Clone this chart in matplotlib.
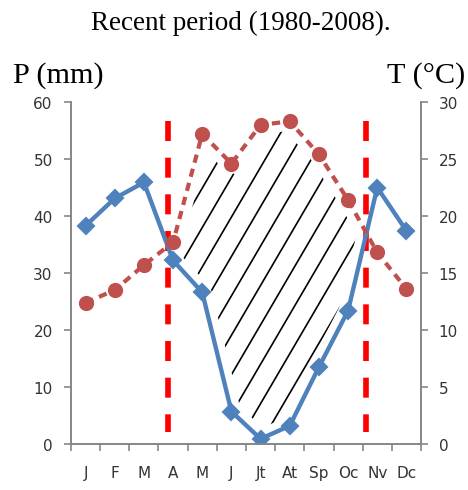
import numpy as np
import matplotlib
matplotlib.use('Agg')
import matplotlib.pyplot as plt
from matplotlib.collections import LineCollection
from matplotlib.patches import Polygon

months = ['J', 'F', 'M', 'A', 'M', 'J', 'Jt', 'At', 'Sp', 'Oc', 'Nv', 'Dc']
precip = [38.3, 43.1, 45.9, 32.2, 26.6, 5.7, 0.9, 3.2, 13.5, 23.4, 45.0, 37.4]
temp = [12.4, 13.5, 15.7, 17.7, 27.2, 24.6, 28.0, 28.3, 25.4, 21.4, 16.8, 13.6]
dry_bounds = [2.82, 9.63]   # where P = 2T
dry_line_span = [56.7, 2.1]

plt.rcParams['lines.scale_dashes'] = False

x = np.arange(len(months))
fig = plt.figure(figsize=(3.12, 3.2733), dpi=150)
ax = fig.add_axes([0.1517, 0.0937, 0.7479, 0.6965])
ax2 = ax.twinx()
ax2.set_zorder(ax.get_zorder() + 1)

# dry season area (P < 2T), hatched with thin slanted lines kept off the edges
t2 = 2 * np.array(temp)
xd = np.linspace(dry_bounds[0], dry_bounds[1], 200)
lo = np.interp(xd, x, precip)
hi = np.interp(xd, x, t2)
area = Polygon(np.column_stack([np.r_[xd, xd[::-1]], np.r_[lo, hi[::-1]]]),
               closed=True, facecolor='none', edgecolor='white', lw=9, zorder=2)
ax.add_patch(area)
x0 = np.arange(-1.13, 12, 0.79)
segs = [[(a, 0), (a + 60 / 8.75, 60)] for a in x0]
hatch = LineCollection(segs, colors='black', linewidths=0.8, zorder=1)
ax.add_collection(hatch)
hatch.set_clip_path(area)

for xb in dry_bounds:
    ax.plot([xb, xb], dry_line_span, color='#ff0000', lw=2.7, dashes=(9.6, 8), zorder=3)
ax.plot(x, precip, color='#4f81bd', lw=2.1, marker='D', ms=5.2, zorder=4)
ax2.plot(x, temp, color='#c0504d', lw=2.0, dashes=(4, 3), marker='o', ms=6.3, zorder=3)

ax.set_xlim(-0.5, 11.5)
ax.set_ylim(0, 60)
ax2.set_ylim(0, 30)
ax.set_yticks(np.arange(0, 61, 10))
ax2.set_yticks(np.arange(0, 31, 5))
ax.set_xticks(np.arange(-0.5, 12, 1))
ax.set_xticklabels([])
ax.set_xticks(x, minor=True)
ax.set_xticklabels(months, minor=True)

grey = '#868686'
for a in (ax, ax2):
    for s in a.spines.values():
        s.set_color(grey)
    a.spines['top'].set_visible(False)
ax.tick_params(axis='x', which='major', length=3.5, color=grey, direction='out')
ax.tick_params(axis='x', which='minor', length=0, pad=10, labelsize=7.3, labelcolor='#333333')
ax.tick_params(axis='y', length=3.3, color=grey, pad=5.5, labelsize=7.3, labelcolor='#333333')
ax2.tick_params(axis='y', length=3.3, color=grey, pad=5.2, labelsize=7.3, labelcolor='#333333')

serif = 'Liberation Serif'
fig.text(0.515, 0.952, 'Recent period (1980-2008).', ha='center', va='center',
         family=serif, fontsize=13)
fig.text(0.028, 0.831, 'P (mm)', ha='left', va='baseline', family=serif, fontsize=14.5)
fig.text(0.994, 0.831, 'T (°C)', ha='right', va='baseline', family=serif, fontsize=14.5)

fig.savefig('out.png', dpi=150)
